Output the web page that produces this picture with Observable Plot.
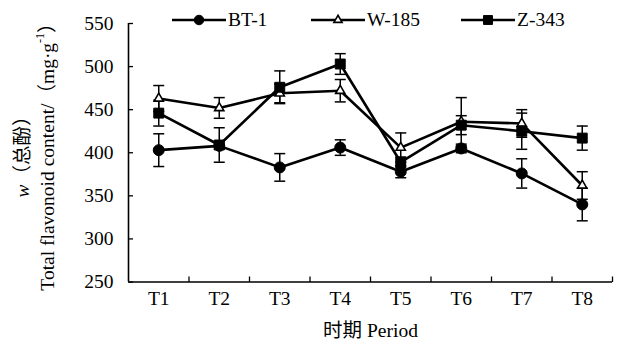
<!DOCTYPE html>
<html><head><meta charset="utf-8">
<script src="https://cdn.jsdelivr.net/npm/d3@7"></script>
<script src="https://cdn.jsdelivr.net/npm/@observablehq/plot@0.6"></script>
<style>
body{margin:0;background:#fff;}
#wrap{position:relative;width:621px;height:344px;font-family:"Liberation Serif","Times New Roman","Noto Sans CJK SC",serif;color:#000;}
#legend{position:absolute;top:0;left:0;width:621px;height:40px;}
.item{position:absolute;top:9px;height:22px;display:flex;align-items:center;font-size:19.5px;line-height:22px;}
.item svg{display:block;margin-right:2px;}
</style></head><body>
<div id="wrap"><div id="chart"></div><div id="legend"></div></div>
<script>
const periods = ["T1","T2","T3","T4","T5","T6","T7","T8"];
const seriesNames = ["BT-1","W-185","Z-343"];
const bt1 = [403, 408, 383, 406, 378, 405, 376, 340];
const bt1Err = [19, 4, 16, 9, 7, 5, 17, 19];
const w185 = [463, 452, 469, 472, 406, 436, 434, 362];
const w185Err = [15, 12, 11, 13, 17, 28, 16, 16];
const z343 = [446, 409, 476, 503, 389, 432, 425, 417];
const z343Err = [15, 20, 19, 12, 6, 11, 21, 14];
const yTicks = [250, 300, 350, 400, 450, 500, 550];
const xLabel = "时期 Period";

const values = [bt1, w185, z343];
const errs = [bt1Err, w185Err, z343Err];
const data = [];
seriesNames.forEach((s, k) => periods.forEach((p, i) => data.push({series: s, i: i + 1, period: p, v: values[k][i], e: errs[k][i]})));
const bounds = periods.map((p, i) => i + 1.5);
const idx = periods.map((p, i) => i + 1);

const capSym = {draw(ctx){ctx.moveTo(-5.5,0); ctx.lineTo(5.5,0);}};
const tickIn = {draw(ctx){ctx.moveTo(0,0); ctx.lineTo(4.5,0);}};
const tickUp = {draw(ctx){ctx.moveTo(0,0); ctx.lineTo(0,-5.5);}};
const symbolFor = {"BT-1": "circle", "W-185": "triangle", "Z-343": "square"};
const rFor = {"BT-1": 5.5, "W-185": 3.4, "Z-343": 5.6};
const fillFor = {"BT-1": "black", "W-185": "white", "Z-343": "black"};

const dotMarks = seriesNames.map(s => Plot.dot(data.filter(d => d.series === s), {
  x: "i", y: "v", symbol: symbolFor[s], r: rFor[s], fill: fillFor[s], stroke: "black", strokeWidth: s === "W-185" ? 1.6 : 1
}));

const chart = Plot.plot({
  width: 621, height: 344,
  marginLeft: 128, marginRight: 9, marginTop: 23, marginBottom: 62.5,
  style: {fontFamily: '"Liberation Serif","Times New Roman","Noto Sans CJK SC",serif', fontSize: "19.5px", background: "white", color: "black"},
  x: {type: "linear", domain: [0.5, 8.5]},
  y: {domain: [250, 550]},
  marks: [
    Plot.ruleX(data, {x: "i", y1: d => d.v - d.e, y2: d => d.v + d.e, stroke: "black", strokeWidth: 1.5}),
    Plot.dot(data, {x: "i", y: d => d.v - d.e, symbol: capSym, fill: "none", stroke: "black", strokeWidth: 1.5}),
    Plot.dot(data, {x: "i", y: d => d.v + d.e, symbol: capSym, fill: "none", stroke: "black", strokeWidth: 1.5}),
    Plot.line(data, {x: "i", y: "v", z: "series", stroke: "black", strokeWidth: 2.6}),
    ...dotMarks,
    Plot.ruleY([250], {stroke: "black", strokeWidth: 1.6}),
    Plot.ruleX([0.5], {stroke: "black", strokeWidth: 1.6}),
    Plot.dot(yTicks, {y: d => d, frameAnchor: "left", symbol: tickIn, fill: "none", stroke: "black", strokeWidth: 1.3}),
    Plot.dot(bounds, {x: d => d, frameAnchor: "bottom", symbol: tickUp, fill: "none", stroke: "black", strokeWidth: 1.3}),
    Plot.axisY({ticks: yTicks, tickSize: 0, tickPadding: 15, label: null}),
    Plot.axisX({ticks: idx, tickFormat: i => periods[i - 1], tickSize: 0, tickPadding: 9, label: null}),
    Plot.text([xLabel], {frameAnchor: "bottom", dy: 49, lineAnchor: "middle", fontSize: 19.5})
  ]
});
document.getElementById("chart").appendChild(chart);

// y-axis title (two rotated lines)
const svg = d3.select(chart);
const cy = 152;
const t1 = svg.append("text").attr("transform", `translate(22,${cy}) rotate(-90)`)
  .attr("text-anchor", "middle").attr("dominant-baseline", "central").attr("font-size", "19.5px").attr("fill", "black");
t1.append("tspan").attr("font-style", "italic").text("w");
t1.append("tspan").text("（总酚）");
const t2 = svg.append("text").attr("transform", `translate(47,${cy}) rotate(-90)`)
  .attr("text-anchor", "middle").attr("dominant-baseline", "central").attr("font-size", "19.5px").attr("fill", "black");
t2.append("tspan").text("Total flavonoid content/（mg·g");
t2.append("tspan").attr("font-size", "12px").attr("dy", "-7").text("-1");
t2.append("tspan").attr("dy", "7").text("）");

// legend
const legendPos = {"BT-1": 172, "W-185": 311, "Z-343": 461};
const legend = d3.select("#legend");
seriesNames.forEach(s => {
  const it = legend.append("div").attr("class", "item").style("left", legendPos[s] + "px");
  const sw = it.append("svg").attr("width", 54).attr("height", 22);
  sw.append("line").attr("x1", 0).attr("x2", 54).attr("y1", 11).attr("y2", 11).attr("stroke", "black").attr("stroke-width", 2.6);
  const sym = {"circle": d3.symbolCircle, "triangle": d3.symbolTriangle, "square": d3.symbolSquare}[symbolFor[s]];
  sw.append("path").attr("transform", "translate(27,11)")
    .attr("d", d3.symbol(sym, Math.PI * rFor[s] * rFor[s] * (s === "BT-1" ? 0.75 : 0.8))())
    .attr("fill", fillFor[s]).attr("stroke", "black").attr("stroke-width", s === "W-185" ? 1.6 : 1);
  it.append("span").text(s);
});
</script>
</body></html>
